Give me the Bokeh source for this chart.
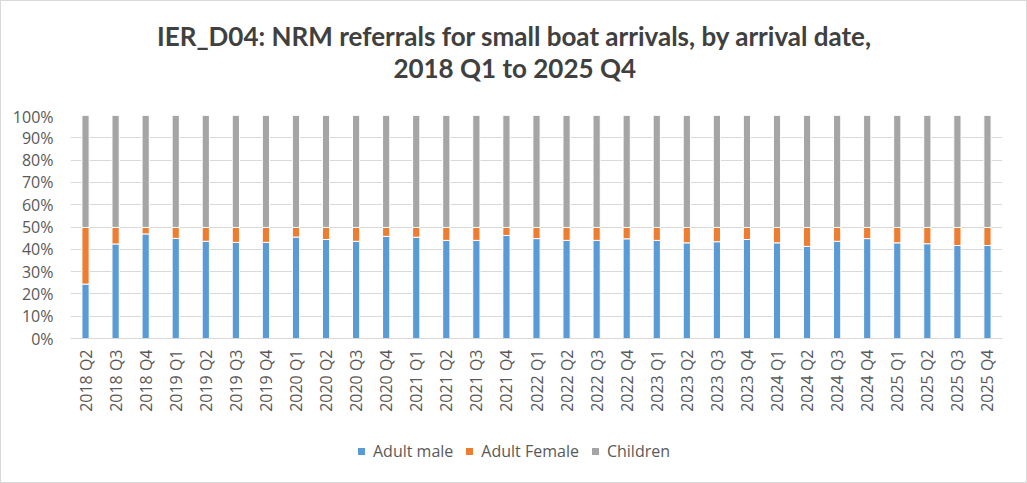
import math

from bokeh.embed import file_html
from bokeh.layouts import column
from bokeh.models import (ColumnDataSource, FactorRange, FixedTicker, Label,
                          Legend, LegendItem, PrintfTickFormatter, Range1d)
from bokeh.plotting import figure
from bokeh.resources import INLINE

# Quarter of arrival
quarters = [
    "2018 Q2", "2018 Q3", "2018 Q4",
    "2019 Q1", "2019 Q2", "2019 Q3", "2019 Q4",
    "2020 Q1", "2020 Q2", "2020 Q3", "2020 Q4",
    "2021 Q1", "2021 Q2", "2021 Q3", "2021 Q4",
    "2022 Q1", "2022 Q2", "2022 Q3", "2022 Q4",
    "2023 Q1", "2023 Q2", "2023 Q3", "2023 Q4",
    "2024 Q1", "2024 Q2", "2024 Q3", "2024 Q4",
    "2025 Q1", "2025 Q2", "2025 Q3", "2025 Q4",
]

# Share of NRM referrals (%) by group
adult_male = [
    24.4, 42.4, 46.9,
    44.9, 43.6, 43.1, 43.1,
    45.5, 44.4, 43.6, 45.8,
    45.4, 44.0, 44.0, 46.2,
    44.8, 44.0, 44.0, 44.7,
    44.0, 42.9, 43.4, 44.4,
    42.9, 41.3, 43.6, 44.8,
    42.9, 42.5, 41.7, 41.7,
]
adult_female = [
    25.4, 7.4, 2.9,
    4.9, 6.2, 6.7, 6.7,
    4.3, 5.4, 6.2, 4.0,
    4.4, 5.8, 5.8, 3.6,
    5.0, 5.8, 5.8, 5.1,
    5.8, 6.9, 6.4, 5.4,
    6.9, 8.5, 6.2, 5.0,
    6.9, 7.3, 8.1, 8.1,
]
children = [
    50.2, 50.2, 50.2,
    50.2, 50.2, 50.2, 50.2,
    50.2, 50.2, 50.2, 50.2,
    50.2, 50.2, 50.2, 50.2,
    50.2, 50.2, 50.2, 50.2,
    50.2, 50.2, 50.2, 50.2,
    50.2, 50.2, 50.2, 50.2,
    50.2, 50.2, 50.2, 50.2,
]

series_names = ["Adult male", "Adult Female", "Children"]
series_colors = ["#5B9BD5", "#ED7D31", "#A5A5A5"]

title_lines = [
    "IER_D04: NRM referrals for small boat arrivals, by arrival date,",
    "2018 Q1 to 2025 Q4",
]

source = ColumnDataSource(dict(
    quarter=quarters, male=adult_male, female=adult_female, children=children,
))

TEXT_FONT = "Open Sans"
TEXT_COLOR = "#595959"
PAGE_W = 1025

# ---- title strip: a bare canvas measured in pixels ----
head = figure(
    width=PAGE_W, height=104,
    x_range=Range1d(0, PAGE_W), y_range=Range1d(0, 104),
    x_axis_type=None, y_axis_type=None,
    min_border=0, output_backend="svg", toolbar_location=None,
)
head.outline_line_color = None
head.grid.visible = False
for text, y in zip(title_lines, [70, 38]):
    head.add_layout(Label(
        x=488.5, y=y, text=text,
        text_align="center", text_baseline="alphabetic",
        text_font="Lato", text_font_style="bold",
        text_font_size="26px", text_color="#404040",
    ))

# ---- 100% stacked bars ----
p = figure(
    x_range=FactorRange(*quarters, range_padding=0),
    y_range=Range1d(0, 100),
    frame_width=932, frame_height=223,
    min_border_left=69, min_border_right=24,
    min_border_top=10, min_border_bottom=95,
    output_backend="svg", toolbar_location=None,
    title=None,
)
p.outline_line_color = None
p.background_fill_color = "white"
p.border_fill_color = "white"

bars = p.vbar_stack(
    ["male", "female", "children"], x="quarter", width=0.24,
    fill_color=series_colors, line_color="white", line_width=1,
    source=source,
)

p.xgrid.grid_line_color = None
p.ygrid.grid_line_color = "#d9d9d9"
p.ygrid.grid_line_width = 1

p.yaxis.ticker = FixedTicker(ticks=list(range(0, 101, 10)))
p.yaxis.formatter = PrintfTickFormatter(format="%d%%")
p.yaxis.axis_line_color = None
p.yaxis.major_tick_line_color = None
p.yaxis.minor_tick_line_color = None
p.yaxis.major_label_standoff = 11
p.yaxis.major_label_text_font = TEXT_FONT
p.yaxis.major_label_text_font_size = "16px"
p.yaxis.major_label_text_color = TEXT_COLOR

p.xaxis.axis_line_color = "#d9d9d9"
p.xaxis.major_tick_line_color = None
p.xaxis.minor_tick_line_color = None
p.xaxis.major_tick_out = 0
p.xaxis.minor_tick_out = 0
p.xaxis.axis_label_standoff = 0
p.xaxis.major_label_orientation = math.pi / 2
p.xaxis.major_label_standoff = 11
p.xaxis.major_label_text_font = TEXT_FONT
p.xaxis.major_label_text_font_size = "16px"
p.xaxis.major_label_text_color = TEXT_COLOR

# ---- legend strip, keyed with the same series styles ----
key = figure(
    width=PAGE_W, height=49,
    x_range=Range1d(0, 1), y_range=Range1d(0, 1),
    x_axis_type=None, y_axis_type=None,
    min_border=0, output_backend="svg", toolbar_location=None,
)
key.outline_line_color = None
key.grid.visible = False
swatches = [
    key.vbar(x=[0.5], top=[0.5], width=0.1, fill_color=c,
             line_color="white", line_width=1, visible=False)
    for c in series_colors
]
legend = Legend(
    items=[LegendItem(label=name, renderers=[r]) for name, r in zip(series_names, swatches)],
    orientation="horizontal", location=(286, 20),
    border_line_color=None, background_fill_alpha=0,
    glyph_width=10, glyph_height=10, label_standoff=7, spacing=11,
    padding=0, margin=0,
    label_text_font=TEXT_FONT, label_text_font_size="16px",
    label_text_color=TEXT_COLOR,
)
key.add_layout(legend, "center")

page = column(head, p, key, spacing=0)
page.styles = {"border": "1px solid #d9d9d9", "background": "white"}

open("out.html", "w").write(file_html(page, INLINE))
